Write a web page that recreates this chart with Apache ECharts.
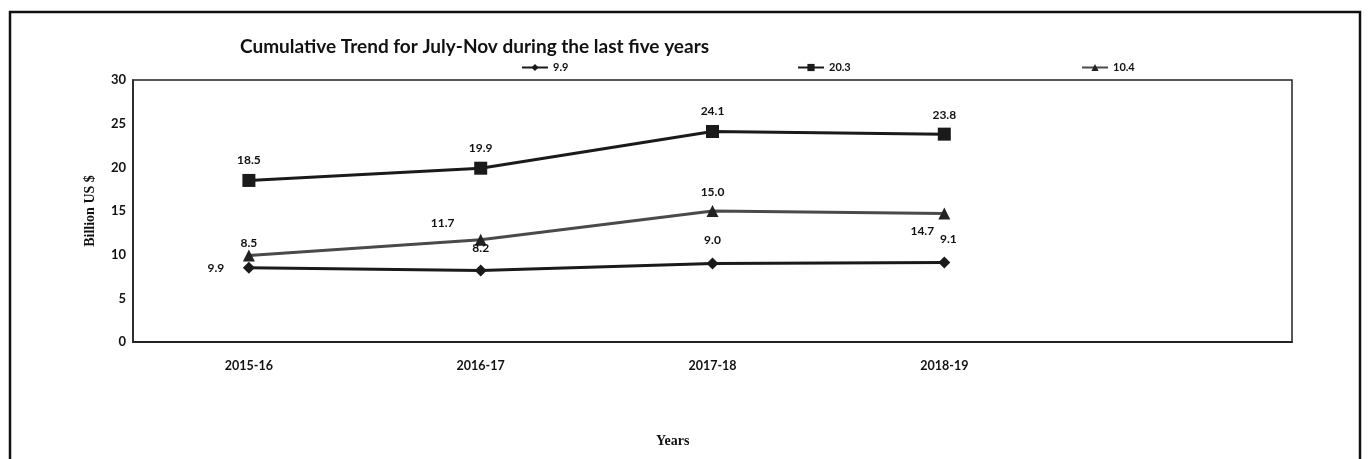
<!DOCTYPE html>
<html>
<head>
<meta charset="utf-8">
<script src="https://cdn.jsdelivr.net/npm/echarts@6/dist/echarts.min.js"></script>
<style>html,body{margin:0;padding:0;background:#fff;}#c{width:1372px;height:459px;}</style>
</head>
<body>
<div id="c"></div>
<script>
const categories = ["2015-16", "2016-17", "2017-18", "2018-19", ""];
const seriesNames = ["9.9", "20.3", "10.4"];
const diamondValues = [8.5, 8.2, 9.0, 9.1];
const squareValues = [18.5, 19.9, 24.1, 23.8];
const triangleValues = [9.9, 11.7, 15.0, 14.7];
const yTicks = [0, 5, 10, 15, 20, 25, 30];

const FONT = 'Lato';
const lbl = (off) => ({ show: true, position: 'top', offset: off, color: '#111', fontFamily: FONT, fontWeight: 'bold', fontSize: 12,
  formatter: (p) => Number(p.value).toFixed(1) });

function pts(values, offsets) {
  return values.map((v, i) => ({ value: v, label: lbl(offsets[i]) }));
}

const chart = echarts.init(document.getElementById('c'));
chart.setOption({
  backgroundColor: '#fff',
  animation: false,
  title: [
    { text: 'Cumulative Trend for July-Nov during the last five years', left: 235, top: 32,
      textStyle: { fontFamily: FONT, fontWeight: 'bold', fontSize: 19, color: '#111' } },
    { text: 'Years', left: 651, top: 429,
      textStyle: { fontFamily: 'Liberation Serif', fontWeight: 'bold', fontSize: 14, color: '#111' } }
  ],
  legend: [
    { data: [seriesNames[0]], left: 516, top: 57, itemWidth: 26, itemHeight: 9, textStyle: { fontFamily: FONT, fontWeight: 'bold', fontSize: 11, color: '#111' } },
    { data: [seriesNames[1]], left: 792, top: 57, itemWidth: 26, itemHeight: 9, textStyle: { fontFamily: FONT, fontWeight: 'bold', fontSize: 11, color: '#111' } },
    { data: [seriesNames[2]], left: 1076, top: 57, itemWidth: 26, itemHeight: 9, textStyle: { fontFamily: FONT, fontWeight: 'bold', fontSize: 11, color: '#111' } }
  ],
  grid: { left: 133, top: 80, width: 1159, height: 262, show: true, borderColor: '#222', borderWidth: 1.5, backgroundColor: 'transparent' },
  xAxis: {
    type: 'category', data: categories, boundaryGap: true,
    axisLine: { lineStyle: { color: '#222', width: 2, type: [3, 1] } },
    axisTick: { show: false },
    axisLabel: { margin: 17, fontFamily: FONT, fontWeight: 'bold', fontSize: 12.5, color: '#111' },
    splitLine: { show: false }
  },
  yAxis: {
    type: 'value', min: yTicks[0], max: yTicks[yTicks.length - 1], interval: 5,
    name: 'Billion US $', nameLocation: 'middle', nameGap: 36,
    nameTextStyle: { fontFamily: 'Liberation Serif', fontWeight: 'bold', fontSize: 14, color: '#111' },
    axisLine: { show: true, lineStyle: { color: '#222', width: 1.5 } },
    axisTick: { show: false },
    axisLabel: { margin: 7, fontFamily: FONT, fontWeight: 'bold', fontSize: 13, color: '#111' },
    splitLine: { show: false }
  },
  series: [
    { name: seriesNames[0], type: 'line', symbol: 'diamond', symbolSize: 12,
      itemStyle: { color: '#1a1a1a' }, lineStyle: { color: '#1a1a1a', width: 3 }, z: 3,
      data: pts(diamondValues, [[0, -8], [0, -5], [0, -6], [4, -6]]) },
    { name: seriesNames[1], type: 'line', symbol: 'rect', symbolSize: 13,
      itemStyle: { color: '#1a1a1a' }, lineStyle: { color: '#1a1a1a', width: 3 }, z: 3,
      data: pts(squareValues, [[0, -3], [0, -3], [0, -3], [0, -2]]) },
    { name: seriesNames[2], type: 'line', symbol: 'triangle', symbolSize: 12,
      itemStyle: { color: '#222' }, lineStyle: { color: '#4a4a4a', width: 3 }, z: 2,
      data: pts(triangleValues, [[-33, 30], [-38, 0], [0, -2], [-22, 35]]) }
  ],
  graphic: [
    { type: 'rect', shape: { x: 10, y: 12, width: 1350, height: 460 }, style: { fill: 'none', stroke: '#111', lineWidth: 2.5 }, silent: true }
  ]
});
</script>
</body>
</html>
